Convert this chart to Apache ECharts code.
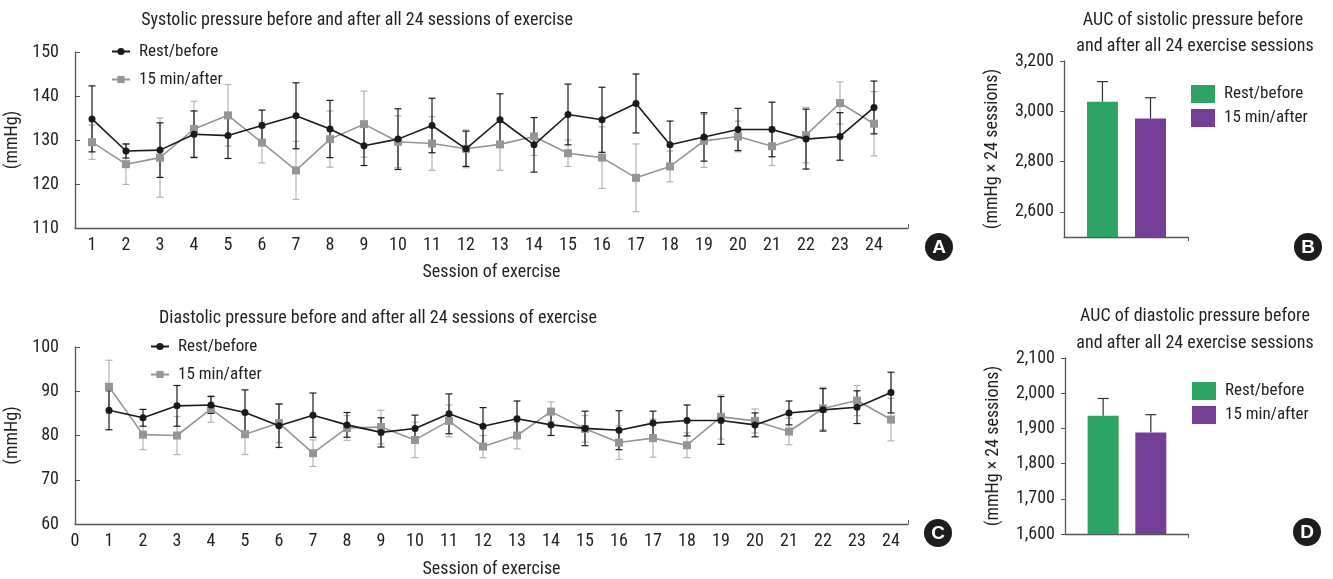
<!DOCTYPE html>
<html>
<head>
<meta charset="utf-8">
<script src="https://cdn.jsdelivr.net/npm/echarts@6/dist/echarts.min.js"></script>
<style>
html,body{margin:0;padding:0;background:#fff;}
#chart{width:1333px;height:579px;}
</style>
</head>
<body>
<div id="chart"></div>
<script>
// ---------- data ----------
const sessionsA = [1,2,3,4,5,6,7,8,9,10,11,12,13,14,15,16,17,18,19,20,21,22,23,24];
const sessionLabelsA = [1,2,3,4,5,6,7,8,9,10,11,12,13,14,15,16,17,18,19,20,21,22,23,24];
const sessionLabelsC = [0,1,2,3,4,5,6,7,8,9,10,11,12,13,14,15,16,17,18,19,20,21,22,23,24];
const seriesNames = ['Rest/before', '15 min/after'];

const sysRest    = [134.8,127.5,127.7,131.3,131.0,133.3,135.5,132.5,128.7,130.2,133.3,128.0,134.6,128.9,135.8,134.6,138.3,128.9,130.7,132.4,132.4,130.2,130.8,137.4];
const sysRestSD  = [7.5,1.6,6.2,5.3,5.2,3.5,7.5,6.5,4.5,6.9,6.2,4.0,5.9,6.2,6.9,7.4,6.7,5.4,5.5,4.8,6.2,6.8,5.4,6.0];
const sysAfter   = [129.5,124.5,126.0,132.5,135.6,129.4,123.1,130.2,133.6,129.6,129.2,128.0,129.0,130.8,127.0,126.0,121.4,124.0,129.8,130.8,128.6,131.1,138.4,133.7];
const sysAfterSD = [3.9,4.6,9.0,6.3,7.0,4.6,6.6,6.4,7.5,5.9,6.1,4.3,5.9,4.3,3.0,7.0,7.7,3.5,6.0,3.5,4.4,6.3,4.8,7.3];

const diaRest    = [85.7,84.0,86.7,86.9,85.2,82.2,84.6,82.4,80.7,81.6,84.9,82.1,83.8,82.4,81.6,81.2,82.8,83.4,83.4,82.4,85.1,85.8,86.4,89.7];
const diaRestSD  = [4.4,1.9,4.6,1.9,5.1,4.9,5.0,2.8,3.3,3.0,4.5,4.2,4.0,2.4,3.9,4.4,2.7,3.5,5.4,2.7,2.7,4.8,3.7,4.6];
const diaAfter   = [91.0,80.2,80.0,86.0,80.3,82.8,76.0,81.7,81.9,79.0,83.3,77.5,80.0,85.4,81.5,78.4,79.4,77.8,84.2,83.3,80.9,86.1,87.9,83.6];
const diaAfterSD = [6.0,3.4,4.3,3.0,4.6,4.4,3.0,2.8,3.8,4.0,3.6,2.5,3.0,2.2,3.0,3.8,4.3,2.8,5.0,2.7,3.0,4.8,3.4,4.8];

const aucPos     = [1, 2];
const sysAuc     = [3038, 2971];
const sysAucErr  = [80, 83];
const diaAuc     = [1936, 1888];
const diaAucErr  = [49, 51];
const sysAucTicks = [2600, 2800, 3000, 3200];
const diaAucTicks = [1600, 1700, 1800, 1900, 2000, 2100];

// ---------- styles ----------
const FONT = '"Liberation Sans Narrow", "Roboto Condensed", "DejaVu Sans Condensed", "Roboto", "Liberation Sans", sans-serif';
const TXT = '#231f20';
const AXIS = '#555';
const BLACK = '#1a1a1a';
const GRAY = '#959595';
const GRAY_ERR = '#b4b4b4';
const GREEN = '#2ea464';
const PURPLE = '#743e96';

function pts(xs, ys) { return xs.map((x, i) => [x, ys[i]]); }
function errs(xs, ys, sd) { return xs.map((x, i) => [x, ys[i] - sd[i], ys[i] + sd[i]]); }
function errsUp(xs, ys, e) { return xs.map((x, i) => [x, ys[i], ys[i] + e[i]]); }

function errRender(capHalf, color, withBottom) {
  return function (params, api) {
    const x = api.value(0), lo = api.value(1), hi = api.value(2);
    const a = api.coord([x, lo]), b = api.coord([x, hi]);
    const st = { stroke: color, lineWidth: 1.2 };
    const ch = [
      { type: 'line', shape: { x1: a[0], y1: a[1], x2: b[0], y2: b[1] }, style: st },
      { type: 'line', shape: { x1: b[0] - capHalf, y1: b[1], x2: b[0] + capHalf, y2: b[1] }, style: st }
    ];
    if (withBottom) ch.push({ type: 'line', shape: { x1: a[0] - capHalf, y1: a[1], x2: a[0] + capHalf, y2: a[1] }, style: st });
    return { type: 'group', children: ch };
  };
}

const axisLineStyle = { lineStyle: { color: AXIS, width: 1.3 } };
const labelStyle = { color: TXT, fontFamily: FONT, fontSize: 18 };

function lineXAxis(gridIndex, min, max, labels, endTick, nameGap) {
  return {
    type: 'value', gridIndex, min, max,
    axisLine: axisLineStyle,
    splitLine: { show: false },
    axisTick: { show: true, customValues: [endTick], inside: true, length: 4, lineStyle: { color: AXIS } },
    axisLabel: Object.assign({ customValues: labels, margin: 8, showMinLabel: true, showMaxLabel: true }, labelStyle),
    name: 'Session of exercise', nameLocation: 'middle', nameGap,
    nameTextStyle: { color: TXT, fontFamily: FONT, fontSize: 18 }
  };
}
function lineYAxis(gridIndex, min, max) {
  return {
    type: 'value', gridIndex, min, max, interval: 10,
    axisLine: Object.assign({ show: true }, axisLineStyle),
    axisTick: { show: true, inside: true, length: 5, lineStyle: { color: AXIS } },
    splitLine: { show: false },
    axisLabel: Object.assign({ margin: 16 }, labelStyle),
    name: '(mmHg)', nameLocation: 'middle', nameGap: 43, nameRotate: 90,
    nameTextStyle: { color: TXT, fontFamily: FONT, fontSize: 18 }
  };
}
function barXAxis(gridIndex) {
  return {
    type: 'value', gridIndex, min: 0.2, max: 2.78,
    axisLine: axisLineStyle, splitLine: { show: false },
    axisTick: { show: true, customValues: [2.78], length: 4, lineStyle: { color: AXIS } },
    axisLabel: { show: false }
  };
}
function barYAxis(gridIndex, min, max, ticks) {
  return {
    type: 'value', gridIndex, min, max,
    axisLine: Object.assign({ show: true }, axisLineStyle),
    axisTick: { show: true, customValues: ticks, length: 4, lineStyle: { color: AXIS } },
    splitLine: { show: false },
    axisLabel: Object.assign({ customValues: ticks, margin: 10,
      formatter: v => v.toLocaleString('en-US') }, labelStyle),
    name: '(mmHg \u00d7 24 sessions)', nameLocation: 'middle', nameGap: 63, nameRotate: 90,
    nameTextStyle: { color: TXT, fontFamily: FONT, fontSize: 18 }
  };
}

function lineSeries(name, data, xi, color, symbol, size, z) {
  return {
    type: 'line', name, xAxisIndex: xi, yAxisIndex: xi, data,
    symbol, symbolSize: size, showSymbol: true,
    lineStyle: { color, width: 1.6 }, itemStyle: { color },
    z, animation: false
  };
}
function errSeries(data, xi, color, z) {
  return {
    type: 'custom', xAxisIndex: xi, yAxisIndex: xi, data,
    encode: { x: 0, y: [1, 2] }, renderItem: errRender(3.5, color, true),
    z, silent: true, animation: false
  };
}
function barSeries(name, data, xi, color) {
  return {
    type: 'bar', name, xAxisIndex: xi, yAxisIndex: xi, data,
    barWidth: 31, barGap: '-100%', itemStyle: { color }, z: 2, animation: false
  };
}
function barErr(data, xi) {
  return {
    type: 'custom', xAxisIndex: xi, yAxisIndex: xi, data,
    encode: { x: 0, y: [1, 2] }, renderItem: errRender(5.5, '#333', false),
    z: 1, silent: true, animation: false
  };
}

function circleLabel(cx, cy, letter) {
  return {
    type: 'group', x: cx, y: cy, children: [
      { type: 'circle', shape: { cx: 0, cy: 0, r: 14 }, style: { fill: '#1d1d1b' } },
      { type: 'text', style: { x: 0, y: 1, text: letter, fill: '#fff', align: 'center', verticalAlign: 'middle',
        font: 'bold 19px "Liberation Sans", Arial, sans-serif' } }
    ]
  };
}
function titleText(x, y, text) {
  return { type: 'text', style: { x, y, text, fill: TXT, align: 'center', verticalAlign: 'middle',
    font: '18px ' + FONT } };
}

const legendLineStyle = {
  orient: 'vertical', itemWidth: 18, itemHeight: 9, itemGap: 11, selectedMode: false, padding: 0,
  textStyle: { color: TXT, fontFamily: FONT, fontSize: 17, padding: [0, 0, 0, 4] }
};
const legendBarStyle = {
  orient: 'vertical', itemWidth: 24, itemHeight: 18, itemGap: 6, selectedMode: false, padding: 0,
  textStyle: { color: TXT, fontFamily: FONT, fontSize: 17, padding: [0, 0, 0, 4] }
};

const option = {
  backgroundColor: '#fff',
  animation: false,
  textStyle: { fontFamily: FONT },
  grid: [
    { left: 75, top: 52, width: 833, height: 176, outerBoundsMode: 'none', containLabel: false },
    { left: 75, top: 347, width: 833, height: 177, outerBoundsMode: 'none', containLabel: false },
    { left: 1064, top: 61, width: 124, height: 176, outerBoundsMode: 'none', containLabel: false },
    { left: 1065, top: 358, width: 123, height: 176, outerBoundsMode: 'none', containLabel: false }
  ],
  xAxis: [
    lineXAxis(0, 0.5, 25, sessionLabelsA, 25, 35),
    lineXAxis(1, 0, 24.5, sessionLabelsC, 24.5, 36),
    barXAxis(2),
    barXAxis(3)
  ],
  yAxis: [
    lineYAxis(0, 110, 150),
    lineYAxis(1, 60, 100),
    barYAxis(2, 2500, 3200, sysAucTicks),
    barYAxis(3, 1600, 2100, diaAucTicks)
  ],
  legend: [
    Object.assign({ left: 111, top: 43, data: seriesNames }, legendLineStyle),
    Object.assign({ left: 150, top: 338, data: seriesNames }, legendLineStyle),
    Object.assign({ left: 1191, top: 85, data: [
      { name: seriesNames[0], icon: 'rect', itemStyle: { color: GREEN } },
      { name: seriesNames[1], icon: 'rect', itemStyle: { color: PURPLE } }
    ] }, legendBarStyle),
    Object.assign({ left: 1192, top: 382, data: [
      { name: seriesNames[0], icon: 'rect', itemStyle: { color: GREEN } },
      { name: seriesNames[1], icon: 'rect', itemStyle: { color: PURPLE } }
    ] }, legendBarStyle)
  ],
  series: [
    lineSeries(seriesNames[0], pts(sessionsA, sysRest), 0, BLACK, 'circle', 7, 6),
    lineSeries(seriesNames[1], pts(sessionsA, sysAfter), 0, GRAY, 'rect', 8, 5),
    errSeries(errs(sessionsA, sysAfter, sysAfterSD), 0, GRAY_ERR, 3),
    errSeries(errs(sessionsA, sysRest, sysRestSD), 0, BLACK, 4),
    lineSeries(seriesNames[0], pts(sessionsA, diaRest), 1, BLACK, 'circle', 7, 6),
    lineSeries(seriesNames[1], pts(sessionsA, diaAfter), 1, GRAY, 'rect', 8, 5),
    errSeries(errs(sessionsA, diaAfter, diaAfterSD), 1, GRAY_ERR, 3),
    errSeries(errs(sessionsA, diaRest, diaRestSD), 1, BLACK, 4),
    barSeries(seriesNames[0], [[aucPos[0], sysAuc[0]]], 2, GREEN),
    barSeries(seriesNames[1], [[aucPos[1], sysAuc[1]]], 2, PURPLE),
    barErr(errsUp(aucPos, sysAuc, sysAucErr), 2),
    barSeries(seriesNames[0], [[aucPos[0], diaAuc[0]]], 3, GREEN),
    barSeries(seriesNames[1], [[aucPos[1], diaAuc[1]]], 3, PURPLE),
    barErr(errsUp(aucPos, diaAuc, diaAucErr), 3)
  ],
  graphic: [
    titleText(357, 20, 'Systolic pressure before and after all 24 sessions of exercise'),
    titleText(378, 318, 'Diastolic pressure before and after all 24 sessions of exercise'),
    titleText(1193, 20, 'AUC of sistolic pressure before'),
    titleText(1195, 46, 'and after all 24 exercise sessions'),
    titleText(1195, 316, 'AUC of diastolic pressure before'),
    titleText(1195, 343, 'and after all 24 exercise sessions'),
    circleLabel(939, 247, 'A'),
    circleLabel(1308, 247, 'B'),
    circleLabel(938, 533, 'C'),
    circleLabel(1307, 532, 'D')
  ]
};

const chart = echarts.init(document.getElementById('chart'), null, { renderer: 'canvas' });
chart.setOption(option);
</script>
</body>
</html>
